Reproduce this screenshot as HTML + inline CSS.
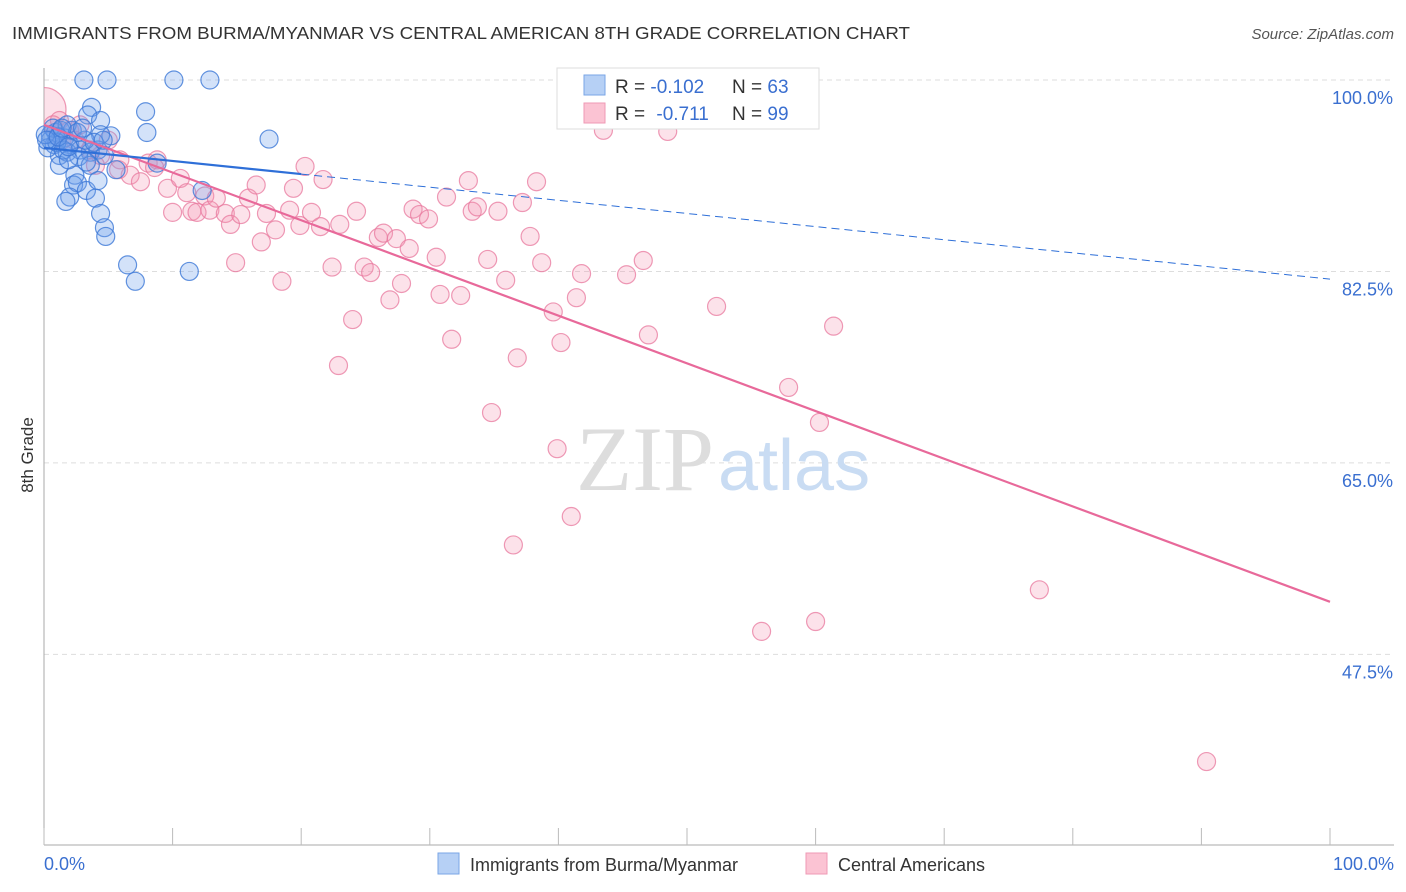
<!DOCTYPE html>
<html><head><meta charset="utf-8"><style>
body{margin:0;background:#fff;font-family:"Liberation Sans",sans-serif}
svg{display:block}
</style></head><body>
<svg id="chart" width="1406" height="892" xmlns="http://www.w3.org/2000/svg">
<defs><clipPath id="plotclip"><rect x="44" y="60" width="1360" height="785"/></clipPath></defs>
<text x="12" y="39" font-size="17.5" fill="#333" textLength="898" lengthAdjust="spacingAndGlyphs">IMMIGRANTS FROM BURMA/MYANMAR VS CENTRAL AMERICAN 8TH GRADE CORRELATION CHART</text>
<text x="1394" y="39" font-size="15" font-style="italic" fill="#555" text-anchor="end">Source: ZipAtlas.com</text>
<text x="33" y="455" font-size="17" fill="#333" text-anchor="middle" transform="rotate(-90 33 455)">8th Grade</text>
<g id="grid"></g>
<g id="axes"></g>
<text x="714" y="490" font-size="92" fill="#ddd" text-anchor="end" font-family="Liberation Serif,serif">ZIP</text>
<text x="718" y="490" font-size="72" fill="#c9dcf3">atlas</text>
<g id="pink" clip-path="url(#plotclip)"></g>
<g id="blue"></g>
<g id="lines"></g>
<g>
<rect x="557" y="68" width="262" height="61" fill="#fff" stroke="#ddd"/>
<rect x="584" y="75" width="21" height="20" fill="#b6d0f5" stroke="#7aa6e6"/>
<rect x="584" y="103" width="21" height="20" fill="#fbc3d3" stroke="#ef9ab5"/>
<text x="615" y="93" font-size="19" fill="#333">R = <tspan fill="#3a6fd0">-0.102</tspan><tspan x="732">N = </tspan><tspan fill="#3a6fd0">63</tspan></text>
<text x="615" y="120" font-size="19" fill="#333">R = <tspan fill="#3a6fd0" dx="6">-0.711</tspan><tspan x="732">N = </tspan><tspan fill="#3a6fd0">99</tspan></text>
</g>
<g>
<rect x="438" y="853" width="21" height="21" fill="#b6d0f5" stroke="#7aa6e6"/>
<text x="470" y="871" font-size="18" fill="#333">Immigrants from Burma/Myanmar</text>
<rect x="806" y="853" width="21" height="21" fill="#fbc3d3" stroke="#ef9ab5"/>
<text x="838" y="871" font-size="18" fill="#333">Central Americans</text>
</g>
</svg>
<script>
const blueX=[3.1,4.9,10.1,12.9,7.9,3.7,3.4,4.4,8.0,5.2,17.5,4.4,0.5,0.9,1.3,1.6,2.0,0.8,1.2,1.8,2.8,3.6,4.2,2.7,1.2,2.4,3.6,2.3,2.6,3.3,4.2,2.0,1.7,4.0,4.4,4.7,4.8,6.5,7.1,11.3,12.3,8.8,5.6,0.5,0.3,1.0,1.5,2.2,3.2,1.8,2.6,3.9,4.7,0.7,0.1,0.2,1.1,1.4,3.0,1.9,4.6,3.3,1.9];
const blueY=[100,100,100,100,97.1,97.5,96.8,96.3,95.2,94.9,94.6,95.0,95.0,95.2,95.4,94.7,94.1,94.1,93.1,93.4,93.6,93.4,93.6,93.0,92.2,91.3,92.2,90.4,90.6,89.9,90.8,89.3,88.9,89.2,87.8,86.5,85.7,83.1,81.6,82.5,89.9,92.4,91.8,94.5,93.8,94.3,93.6,95.4,94.5,95.9,95.2,94.3,93.1,95.6,95.0,94.5,94.8,95.6,95.6,92.7,94.5,92.5,93.9];
const pinkX=[0,1.2,2.0,2.8,1.4,3.6,4.4,5.0,5.9,6.7,7.5,8.1,8.8,9.6,10.0,10.6,11.1,11.5,11.9,12.5,12.9,13.4,14.1,14.5,14.9,15.3,15.9,16.5,16.9,17.3,18.0,18.5,19.1,19.4,19.9,20.3,20.8,21.5,21.7,22.4,23.0,22.9,24.0,24.3,24.9,25.4,26.0,26.4,26.9,27.4,27.8,28.4,28.7,29.2,29.9,30.5,30.8,31.3,31.7,32.4,33.0,33.3,33.7,34.5,34.8,35.3,35.9,36.5,36.8,37.2,37.8,38.3,38.7,39.6,39.9,40.2,41.0,41.4,41.8,43.5,45.3,46.6,47.0,48.5,48.8,52.3,55.8,57.9,60.0,60.3,61.4,77.4,90.4,8.6,2.4,4.0,5.8,0.7];
const pinkY=[97.3,96.3,95.4,95.9,94.5,93.6,93.1,94.5,92.7,91.3,90.7,92.4,92.7,90.1,87.9,91.0,89.7,88.0,87.9,89.4,88.1,89.2,87.8,86.8,83.3,87.7,89.2,90.4,85.2,87.8,86.3,81.6,88.1,90.1,86.7,92.1,87.9,86.6,90.9,82.9,86.8,73.9,78.1,88.0,82.9,82.4,85.6,86.0,79.9,85.5,81.4,84.6,88.2,87.7,87.3,83.8,80.4,89.3,76.3,80.3,90.8,88.0,88.4,83.6,69.6,88.0,81.7,57.5,74.6,88.8,85.7,90.7,83.3,78.8,66.3,76.0,60.1,80.1,82.3,95.4,82.2,83.5,76.7,95.3,99.8,79.3,49.6,71.9,50.5,68.7,77.5,53.4,37.7,92.0,94.5,92.2,91.8,95.9];
const yTicks=[100,82.5,65,47.5];
const yTickLabels=["100.0%","82.5%","65.0%","47.5%"];
const blueTrend=[93.8,81.8];
const pinkTrend=[95.9,52.3];

const NS="http://www.w3.org/2000/svg";
const sx=v=>44+v*12.86;
const sy=v=>80+(100-v)*10.94;
function mk(tag,attrs,parent){const e=document.createElementNS(NS,tag);for(const k in attrs)e.setAttribute(k,attrs[k]);parent.appendChild(e);return e;}
const grid=document.getElementById('grid'),axes=document.getElementById('axes');
yTicks.forEach((t,i)=>{
  const l=mk('line',{x1:44,x2:1394,y1:sy(t),y2:sy(t),stroke:'#ddd','stroke-dasharray':'5,4'},grid);
  
  
  const tx=mk('text',{x:1393,y:sy(t)+24,'font-size':18,fill:'#3a6fd0','text-anchor':'end'},axes);
  tx.textContent=yTickLabels[i];
  
  
});
mk('line',{x1:44,x2:44,y1:68,y2:845,stroke:'#aaa'},axes);
mk('line',{x1:44,x2:1394,y1:845,y2:845,stroke:'#aaa'},axes);
for(let i=0;i<=10;i++){
  const t=mk('line',{x1:sx(i*10),x2:sx(i*10),y1:828,y2:845,stroke:'#bbb'},axes);
  
  
}
const xl=mk('text',{x:44,y:870,'font-size':18,fill:'#3a6fd0'},axes);xl.textContent='0.0%';


const xr=mk('text',{x:1394,y:870,'font-size':18,fill:'#3a6fd0','text-anchor':'end'},axes);xr.textContent='100.0%';



const pg=document.getElementById('pink');
pinkX.forEach((x,i)=>{
  const c=mk('circle',{cx:sx(x),cy:sy(pinkY[i]),r:i===0?22:9,fill:'rgba(244,150,180,0.28)',stroke:'rgba(232,120,158,0.75)','stroke-width':1.2},pg);
  
  
});
const bg=document.getElementById('blue');
blueX.forEach((x,i)=>{
  const c=mk('circle',{cx:sx(x),cy:sy(blueY[i]),r:9,fill:'rgba(110,160,235,0.3)',stroke:'rgba(60,120,215,0.8)','stroke-width':1.2},bg);
  
  
});
const lg=document.getElementById('lines');
const by=x=>blueTrend[0]+(blueTrend[1]-blueTrend[0])*x/100;
const py=x=>pinkTrend[0]+(pinkTrend[1]-pinkTrend[0])*x/100;
const l1=mk('line',{x1:sx(0),y1:sy(py(0)),x2:sx(100),y2:sy(py(100)),stroke:'#e8699a','stroke-width':2.2},lg);


const l2=mk('line',{x1:sx(0),y1:sy(by(0)),x2:sx(20),y2:sy(by(20)),stroke:'#2e6fd8','stroke-width':2.2},lg);


const l3=mk('line',{x1:sx(20),y1:sy(by(20)),x2:sx(100),y2:sy(by(100)),stroke:'#2e6fd8','stroke-width':1,'stroke-dasharray':'8,5'},lg);


</script>
</body></html>
